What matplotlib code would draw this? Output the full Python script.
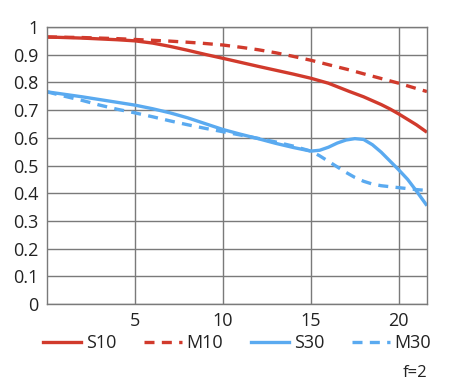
import matplotlib.pyplot as plt
from matplotlib.lines import Line2D

plt.rcParams['font.family'] = ['Open Sans', 'DejaVu Sans']

# values
x_s10 = [0, 2, 4, 5, 6, 7, 8, 9, 10, 12, 14, 15, 16, 17.2, 18, 19, 19.5, 20, 21, 21.6]
s10 = [0.964, 0.960, 0.954, 0.950, 0.942, 0.930, 0.916, 0.901, 0.887, 0.858, 0.830, 0.815, 0.797, 0.767, 0.748, 0.720, 0.704, 0.686, 0.647, 0.620]

x_m10 = [0, 2, 4, 5, 6, 7, 8, 8.7, 10, 11, 12, 13, 14, 15, 16, 17.2, 18, 19, 20, 21, 21.6]
m10 = [0.964, 0.962, 0.958, 0.955, 0.952, 0.949, 0.945, 0.942, 0.935, 0.927, 0.918, 0.907, 0.894, 0.880, 0.864, 0.845, 0.831, 0.814, 0.797, 0.778, 0.767]

x_s30 = [0, 1, 2, 3, 4, 5, 6, 7, 8, 9, 10, 11, 12, 13, 14, 15, 15.5, 16, 16.5, 17, 17.5, 18, 18.5, 19, 19.5, 20, 20.5, 21, 21.6]
s30 = [0.766, 0.757, 0.748, 0.738, 0.728, 0.718, 0.705, 0.690, 0.672, 0.651, 0.630, 0.613, 0.597, 0.580, 0.565, 0.552, 0.555, 0.566, 0.581, 0.592, 0.597, 0.594, 0.575, 0.548, 0.516, 0.484, 0.450, 0.408, 0.355]

x_m30 = [0, 1, 2, 3, 4, 5, 6, 7, 8, 9, 10, 11, 12, 13, 14, 15, 15.5, 16, 16.5, 17, 17.5, 18, 18.5, 19, 20, 21, 21.6]
m30 = [0.766, 0.750, 0.735, 0.718, 0.703, 0.690, 0.676, 0.661, 0.647, 0.634, 0.622, 0.610, 0.598, 0.585, 0.570, 0.552, 0.535, 0.515, 0.495, 0.475, 0.457, 0.443, 0.433, 0.427, 0.420, 0.413, 0.410]

red = '#d13a2c'
blue = '#5aaaf0'
dash = (0, (3, 2.2))

fig = plt.figure(figsize=(4.5, 3.92), dpi=100)
ax = fig.add_axes([0.1044, 0.2245, 0.8444, 0.7066])

ax.plot(x_s10, s10, color=red, lw=2.4, solid_capstyle='butt')
ax.plot(x_m10, m10, color=red, lw=2.4, ls=dash)
ax.plot(x_s30, s30, color=blue, lw=2.4, solid_capstyle='butt')
ax.plot(x_m30, m30, color=blue, lw=2.4, ls=dash)

ax.set_xlim(0, 21.6)
ax.set_ylim(0, 1)
ax.set_xticks([5, 10, 15, 20])
ax.set_yticks([0, 0.1, 0.2, 0.3, 0.4, 0.5, 0.6, 0.7, 0.8, 0.9, 1])
ax.set_yticklabels(['0', '0.1', '0.2', '0.3', '0.4', '0.5', '0.6', '0.7', '0.8', '0.9', '1'])
ax.grid(True, color='#7a7a7a', lw=1)
ax.set_axisbelow(True)
for s in ax.spines.values():
    s.set_color('#7a7a7a')
    s.set_linewidth(1)
ax.tick_params(length=0, labelsize=13, colors='#222222', pad=6)

handles = [
    Line2D([], [], color=red, lw=2.4),
    Line2D([], [], color=red, lw=2.4, ls=dash),
    Line2D([], [], color=blue, lw=2.4),
    Line2D([], [], color=blue, lw=2.4, ls=dash),
]
fig.legend(handles, ['S10', 'M10', 'S30', 'M30'], loc='center', ncol=4,
           bbox_to_anchor=(0.527, 0.125), frameon=False, fontsize=13,
           handlelength=2.1, handletextpad=0.25, columnspacing=1.55,
           borderpad=0, labelcolor='#222222')
fig.text(0.95, 0.048, 'f=2', ha='right', va='center', fontsize=12, color='#222222')

fig.savefig('out.png', dpi=100)
